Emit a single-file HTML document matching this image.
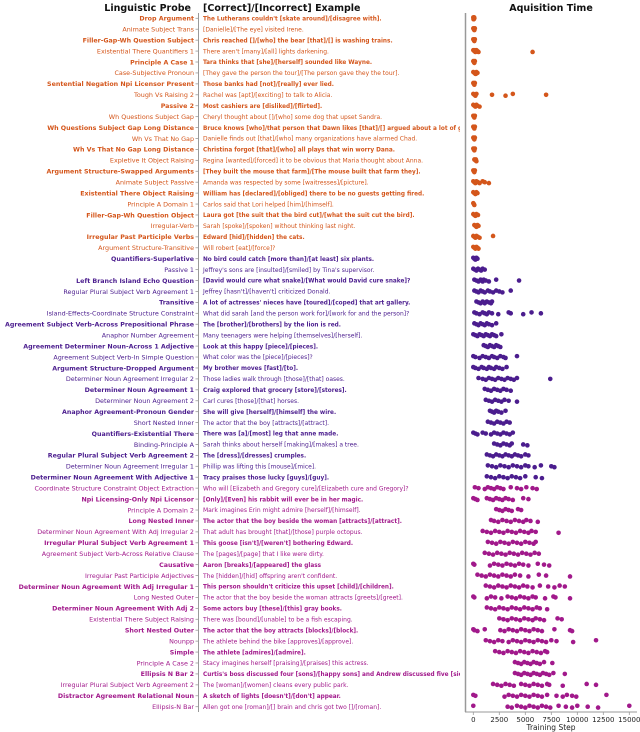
<!DOCTYPE html>
<html><head><meta charset="utf-8"><style>
html,body{margin:0;padding:0;background:#fff;}
svg{display:block;font-family:"DejaVu Sans","Liberation Sans",sans-serif;}
</style></head><body>
<svg id="chart" width="640" height="732" viewBox="0 0 640 732">
<defs><clipPath id="exclip"><rect x="200" y="0" width="260" height="732"/></clipPath></defs>
<text x="191" y="11" text-anchor="end" font-size="9.5" font-weight="bold" fill="#111">Linguistic Probe</text>
<text x="203" y="11" font-size="9.5" font-weight="bold" fill="#111">[Correct]/[Incorrect] Example</text>
<text x="551" y="11" text-anchor="middle" font-size="9.5" font-weight="bold" fill="#111">Aquisition Time</text>
<line x1="198.5" y1="13" x2="198.5" y2="712" stroke="#999" stroke-width="1"/>
<line x1="465.5" y1="13" x2="465.5" y2="712" stroke="#999" stroke-width="1.5"/>
<line x1="465" y1="712" x2="637" y2="712" stroke="#999" stroke-width="1"/>
<text x="551" y="730" text-anchor="middle" font-size="7.5" fill="#222">Training Step</text>
<g id="labels"></g><g id="examples" clip-path="url(#exclip)"></g><g id="ticks"></g><g id="points"></g>
</svg>
<script>
const probes = ["Drop Argument","Animate Subject Trans","Filler-Gap-Wh Question Subject","Existential There Quantifiers 1","Principle A Case 1","Case-Subjective Pronoun","Sentential Negation Npi Licensor Present","Tough Vs Raising 2","Passive 2","Wh Questions Subject Gap","Wh Questions Subject Gap Long Distance","Wh Vs That No Gap","Wh Vs That No Gap Long Distance","Expletive It Object Raising","Argument Structure-Swapped Arguments","Animate Subject Passive","Existential There Object Raising","Principle A Domain 1","Filler-Gap-Wh Question Object","Irregular-Verb","Irregular Past Participle Verbs","Argument Structure-Transitive","Quantifiers-Superlative","Passive 1","Left Branch Island Echo Question","Regular Plural Subject Verb Agreement 1","Transitive","Island-Effects-Coordinate Structure Constraint","Agreement Subject Verb-Across Prepositional Phrase","Anaphor Number Agreement","Agreement Determiner Noun-Across 1 Adjective","Agreement Subject Verb-In Simple Question","Argument Structure-Dropped Argument","Determiner Noun Agreement Irregular 2","Determiner Noun Agreement 1","Determiner Noun Agreement 2","Anaphor Agreement-Pronoun Gender","Short Nested Inner","Quantifiers-Existential There","Binding-Principle A","Regular Plural Subject Verb Agreement 2","Determiner Noun Agreement Irregular 1","Determiner Noun Agreement With Adjective 1","Coordinate Structure Constraint Object Extraction","Npi Licensing-Only Npi Licensor","Principle A Domain 2","Long Nested Inner","Determiner Noun Agreement With Adj Irregular 2","Irregular Plural Subject Verb Agreement 1","Agreement Subject Verb-Across Relative Clause","Causative","Irregular Past Participle Adjectives","Determiner Noun Agreement With Adj Irregular 1","Long Nested Outer","Determiner Noun Agreement With Adj 2","Existential There Subject Raising","Short Nested Outer","Nounpp","Simple","Principle A Case 2","Ellipsis N Bar 2","Irregular Plural Subject Verb Agreement 2","Distractor Agreement Relational Noun","Ellipsis-N Bar"];
const examples = ["The Lutherans couldn't [skate around]/[disagree with].","[Danielle]/[The eye] visited Irene.","Chris reached []/[who] the bear [that]/[] is washing trains.","There aren't [many]/[all] lights darkening.","Tara thinks that [she]/[herself] sounded like Wayne.","[They gave the person the tour]/[The person gave they the tour].","Those banks had [not]/[really] ever lied.","Rachel was [apt]/[exciting] to talk to Alicia.","Most cashiers are [disliked]/[flirted].","Cheryl thought about []/[who] some dog that upset Sandra.","Bruce knows [who]/that person that Dawn likes [that]/[] argued about a lot of guys.","Danielle finds out [that]/[who] many organizations have alarmed Chad.","Christina forgot [that]/[who] all plays that win worry Dana.","Regina [wanted]/[forced] it to be obvious that Maria thought about Anna.","[They built the mouse that farm]/[The mouse built that farm they].","Amanda was respected by some [waitresses]/[picture].","William has [declared]/[obliged] there to be no guests getting fired.","Carlos said that Lori helped [him]/[himself].","Laura got [the suit that the bird cut]/[what the suit cut the bird].","Sarah [spoke]/[spoken] without thinking last night.","Edward [hid]/[hidden] the cats.","Will robert [eat]/[force]?","No bird could catch [more than]/[at least] six plants.","Jeffrey's sons are [insulted]/[smiled] by Tina's supervisor.","[David would cure what snake]/[What would David cure snake]?","Jeffrey [hasn't]/[haven't] criticized Donald.","A lot of actresses' nieces have [toured]/[coped] that art gallery.","What did sarah [and the person work for]/[work for and the person]?","The [brother]/[brothers] by the lion is red.","Many teenagers were helping [themselves]/[herself].","Look at this happy [piece]/[pieces].","What color was the [piece]/[pieces]?","My brother moves [fast]/[to].","Those ladies walk through [those]/[that] oases.","Craig explored that grocery [store]/[stores].","Carl cures [those]/[that] horses.","She will give [herself]/[himself] the wire.","The actor that the boy [attracts]/[attract].","There was [a]/[most] leg that anne made.","Sarah thinks about herself [making]/[makes] a tree.","The [dress]/[dresses] crumples.","Phillip was lifting this [mouse]/[mice].","Tracy praises those lucky [guys]/[guy].","Who will [Elizabeth and Gregory cure]/[Elizabeth cure and Gregory]?","[Only]/[Even] his rabbit will ever be in her magic.","Mark imagines Erin might admire [herself]/[himself].","The actor that the boy beside the woman [attracts]/[attract].","That adult has brought [that]/[those] purple octopus.","This goose [isn't]/[weren't] bothering Edward.","The [pages]/[page] that I like were dirty.","Aaron [breaks]/[appeared] the glass","The [hidden]/[hid] offspring aren't confident.","This person shouldn't criticize this upset [child]/[children].","The actor that the boy beside the woman attracts [greets]/[greet].","Some actors buy [these]/[this] gray books.","There was [bound]/[unable] to be a fish escaping.","The actor that the boy attracts [blocks]/[block].","The athlete behind the bike [approves]/[approve].","The athlete [admires]/[admire].","Stacy imagines herself [praising]/[praises] this actress.","Curtis's boss discussed four [sons]/[happy sons] and Andrew discussed five [sick sons]/[sick]","The [woman]/[women] cleans every public park.","A sketch of lights [doesn't]/[don't] appear.","Allen got one [roman]/[] brain and chris got two []/[roman]."];
// acquisition steps (in thousands of training steps) per probe
const steps = [
[0,0.03,0.05,0.08,0.1,0.02,0.06],[0,0.05,0.1,0.15,0.08],[0,0.05,0.1,0.15,0.08],[0,0.1,0.2,0.3,0.4,0.5,0.15,0.35,5.7],
[0,0.05,0.1,0.15],[0,0.1,0.2,0.3,0.4,0.25],[0,0.05,0.1,0.15],[0,0.1,0.2,0.3,1.8,3.1,3.8,7.0],
[0,0.1,0.2,0.3,0.4,0.6],[0,0.05,0.1,0.15],[0,0.05,0.1,0.15],[0,0.05,0.1,0.15],
[0,0.05,0.1,0.15],[0.1,0.2,0.3,0.25],[0,0.05,0.1,0.15],[0,0.1,0.2,0.3,0.45,0.6,0.9,1.1,1.5],
[0,0.1,0.2,0.3,0.4],[0,0.05,0.1],[0,0.1,0.2,0.3,0.45],[0.1,0.2,0.3,0.4,0.5],
[0,0.1,0.2,0.3,0.45,0.6,1.9],[0,0.1,0.2,0.3,0.4,0.5],[0,0.1,0.2,0.3,0.4],[0,0.15,0.3,0.45,0.6,0.75,0.9,1.1],
[0.1,0.3,0.5,0.7,0.8,0.9,1.0,1.2,1.5,2.2,4.4],[0.1,0.3,0.5,0.7,0.9,1.1,1.4,1.6,1.9,2.2,2.5,2.8,3.6],
[0.3,0.5,0.7,0.9,1.0,1.1,1.3,1.5,1.7,1.8],[0.1,0.3,0.6,0.9,1.1,1.3,1.5,1.8,2.4,3.4,3.6,4.8,5.6,6.5],
[0.1,0.3,0.5,0.7,0.9,1.1,1.3,1.5,1.8,2.2],[0,0.2,0.4,0.6,0.8,1.0,1.2,1.4,1.6,1.8,2.0,2.2,2.7],
[1.0,1.2,1.4,1.6,1.8,2.0,2.2,2.4,2.6],[0,0.2,0.6,0.9,1.2,1.5,1.8,2.0,2.3,2.6,2.9,3.1,4.2],
[0,0.2,0.5,0.8,1.0,1.3,1.5,1.7,2.0,2.2,2.5,2.8,3.2],[0.5,0.9,1.2,1.5,1.8,2.1,2.4,2.7,3.0,3.3,3.6,3.9,4.2,7.4],
[1.1,1.4,1.7,2.0,2.3,2.6,2.9,3.2,3.6],[1.2,1.5,1.8,2.1,2.4,2.7,3.0,3.4,4.2],
[1.6,1.8,2.0,2.2,2.4,2.7,3.1],[1.4,1.7,2.0,2.3,2.6,2.9,3.2,3.5],
[0,0.2,0.4,0.9,1.2,1.7,2.0,2.3,2.6,2.9,3.2,3.5,3.8],[2.0,2.3,2.6,2.9,3.2,3.5,3.7,4.8,5.2],
[1.3,1.6,1.9,2.2,2.5,2.8,3.1,3.4,3.7,4.0,4.3,4.6,5.0,5.3],[1.4,1.8,2.2,2.6,3.0,3.4,3.8,4.2,4.6,5.0,5.3,5.9,6.5,7.5,7.8],
[1.3,1.7,2.1,2.5,2.9,3.3,3.7,4.1,4.5,5.0,6.0,6.6],[0.15,0.5,1.1,1.4,1.7,2.0,2.3,2.6,2.9,3.6,4.2,4.6,5.1,5.7,6.1],
[0,0.2,0.4,1.3,1.6,1.9,2.2,2.5,2.8,3.1,3.4,3.8,4.8,5.3],[2.2,2.5,2.8,3.1,3.4,3.7,4.3,4.6],
[1.7,2.0,2.4,2.8,3.2,3.6,4.0,4.4,4.8,5.1,5.5,6.2],[0.9,1.3,1.7,2.1,2.5,2.9,3.3,3.7,4.1,4.5,4.9,5.3,5.6,6.0,8.2],
[1.4,1.8,2.2,2.6,3.0,3.4,3.8,4.2,4.6,5.0,5.4,5.8,6.0],[1.1,1.5,1.9,2.3,2.7,3.1,3.5,3.9,4.3,4.7,5.1,5.5,5.9,6.3],
[0,0.1,1.6,2.0,2.4,2.8,3.2,3.6,4.0,4.4,4.8,5.3,6.2,6.8,7.3],[0.4,0.8,1.2,1.6,2.0,2.4,2.8,3.2,3.6,4.0,4.5,5.3,6.3,7.0,9.3],
[1.2,1.6,2.0,2.4,2.8,3.2,3.6,4.0,4.4,4.8,5.2,5.7,6.4,7.2,7.8,8.3,8.8],[0,0.1,1.3,1.7,2.1,2.7,3.3,3.7,4.1,4.5,4.9,5.3,5.7,6.0,6.9,7.7,7.9,9.3],
[1.3,1.7,2.1,2.5,2.9,3.3,3.7,4.1,4.5,4.9,5.3,5.7,6.1,6.4,7.1],[2.5,2.9,3.3,3.7,4.1,4.5,4.9,5.3,5.7,6.0,6.4,6.8,8.1,8.5],
[0,0.1,0.4,1.1,2.6,3.0,3.4,3.8,4.2,4.6,5.0,5.4,5.8,6.2,6.6,7.8,9.3,9.5],[1.2,1.6,2.0,2.4,2.8,3.4,3.8,4.2,4.6,5.0,5.4,5.8,6.2,6.6,7.0,7.5,8.0,9.6,11.8],
[2.1,2.5,2.9,3.3,3.7,4.1,4.5,4.9,5.3,5.7,6.1,6.5,6.9,7.1],[4.0,4.3,4.6,4.9,5.2,5.5,5.8,6.1,6.4,6.8,7.6],
[4.0,4.3,4.6,4.9,5.2,5.5,5.8,6.1,6.4,6.7,7.0,7.3,7.7,8.8],[1.9,2.3,2.7,3.1,3.5,3.9,4.6,5.0,5.4,5.8,6.2,6.6,7.1,7.3,8.6,10.9,11.8],
[0,0.2,3.0,3.4,3.8,4.2,4.6,5.0,5.4,5.8,6.2,6.6,7.1,8.0,8.6,9.0,9.5,9.9,12.8],[0,3.3,3.7,4.2,4.6,5.0,5.4,5.8,6.2,6.6,7.0,7.4,8.2,8.9,9.5,10.0,11.0,12.0,15.0]
];
const xTicks = [0,2500,5000,7500,10000,12500,15000];

const NS = "http://www.w3.org/2000/svg";
const x0 = 473.3, xScale = 156/15000;
const xPos = v => x0 + v * xScale;
const y0 = 18.3, rowH = (706.7 - 18.3) / 63;
const yPos = i => y0 + i * rowH;
function color(i){ return i < 22 ? "#d4561b" : (i < 43 ? "#4b1d8e" : "#a1198b"); }
function mk(tag, attrs, parent){ const e=document.createElementNS(NS,tag); for(const k in attrs) e.setAttribute(k,attrs[k]); parent.appendChild(e); return e; }

const gL=document.getElementById('labels'), gE=document.getElementById('examples'), gT=document.getElementById('ticks'), gP=document.getElementById('points');
probes.forEach((p,i)=>{
  const y=yPos(i), bold=i%2===0;
  const t=mk('text',{x:194,y:y+2.3,'text-anchor':'end','font-size':bold?6.3:6.4,'font-weight':bold?'bold':'normal',fill:color(i)},gL);
  t.textContent=p;
  
  
  const tk=mk('line',{x1:195.5,x2:198.5,y1:y,y2:y,stroke:'#999','stroke-width':0.8},gL);
  
  
  const e=mk('text',{x:203,y:y+2.2,'font-size':bold?5.75:6.0,'font-weight':bold?'bold':'normal',fill:color(i)},gE);
  e.textContent=examples[i];
  
  
  steps[i].forEach((v,j)=>{
    const c=mk('circle',{cx:xPos(v*1000),cy:y+((j%3)-1)*0.9,r:2.3,fill:color(i)},gP);
    
    
  });
});
xTicks.forEach(v=>{
  const l=mk('line',{x1:xPos(v),x2:xPos(v),y1:712,y2:715,stroke:'#999','stroke-width':0.8},gT);
  
  
  const t=mk('text',{x:xPos(v),y:722,'text-anchor':'middle','font-size':7,fill:'#222'},gT);
  t.textContent=v;
  
  
});
</script>
</body></html>
